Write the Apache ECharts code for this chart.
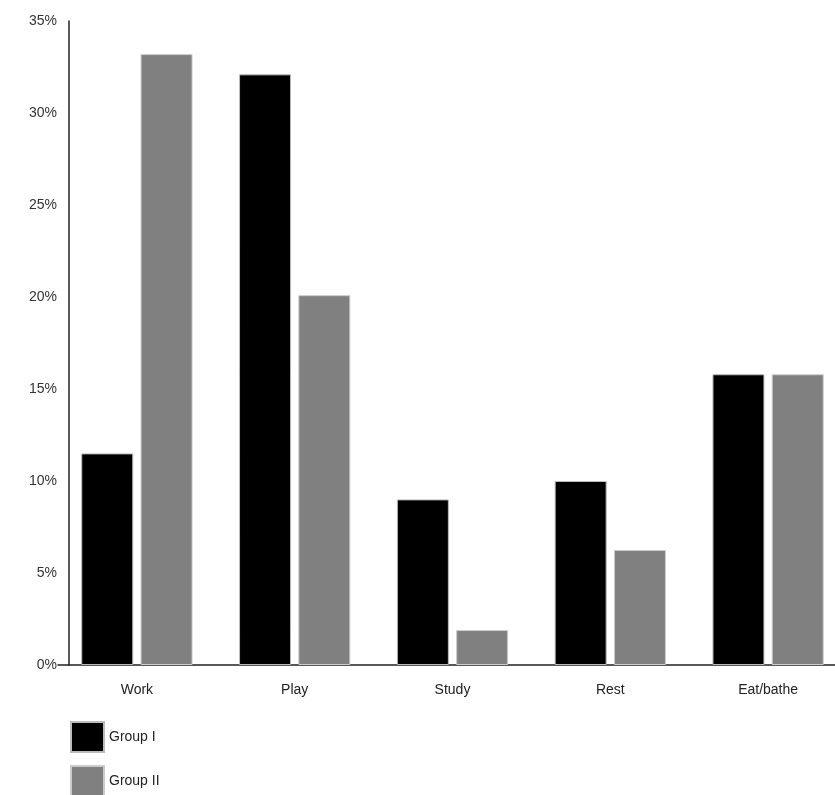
<!DOCTYPE html>
<html>
<head>
<meta charset="utf-8">
<script src="https://cdn.jsdelivr.net/npm/echarts@6/dist/echarts.min.js"></script>
<style>html,body{margin:0;padding:0;background:#fff;}#c{width:835px;height:795px;}</style>
</head>
<body>
<div id="c"></div>
<script>
const categories = ['Work', 'Play', 'Study', 'Rest', 'Eat/bathe'];
const groupI = [11.5, 32.1, 9.0, 10.0, 15.8];
const groupII = [33.2, 20.1, 1.9, 6.25, 15.8];
const seriesNames = ['Group I', 'Group II'];

const legendCommon = {
  orient: 'vertical',
  left: 70,
  padding: 0,
  itemWidth: 33,
  itemHeight: 30,
  icon: 'rect',
  textStyle: { fontSize: 14, color: '#222' }
};

const chart = echarts.init(document.getElementById('c'));
chart.setOption({
  animation: false,
  backgroundColor: '#fff',
  textStyle: { fontFamily: 'Liberation Sans, Arial, sans-serif' },
  grid: { left: 58, top: 21, width: 789, height: 644, containLabel: false, outerBoundsMode: 'none' },
  legend: [
    Object.assign({}, legendCommon, { top: 721, data: [seriesNames[0]] }),
    Object.assign({}, legendCommon, { top: 765, data: [seriesNames[1]] })
  ],
  xAxis: {
    type: 'category',
    data: categories,
    axisLine: { lineStyle: { color: '#222', width: 1.5 } },
    axisTick: { show: false },
    axisLabel: { color: '#222', fontSize: 14, margin: 18 }
  },
  yAxis: {
    type: 'value',
    min: 0,
    max: 35,
    interval: 5,
    offset: -11,
    splitLine: { show: false },
    axisLine: { show: true, lineStyle: { color: '#222', width: 1.5 } },
    axisTick: { show: false },
    axisLabel: { color: '#333', fontSize: 14, margin: 12, formatter: '{value}%' }
  },
  series: [
    {
      name: seriesNames[0],
      type: 'bar',
      data: groupI,
      barWidth: 52,
      barGap: '14%',
      itemStyle: { color: '#000', borderColor: '#bbb', borderWidth: 1 }
    },
    {
      name: seriesNames[1],
      type: 'bar',
      data: groupII,
      barWidth: 52,
      itemStyle: { color: '#808080', borderColor: '#ccc', borderWidth: 1 }
    }
  ]
});
</script>
</body>
</html>
